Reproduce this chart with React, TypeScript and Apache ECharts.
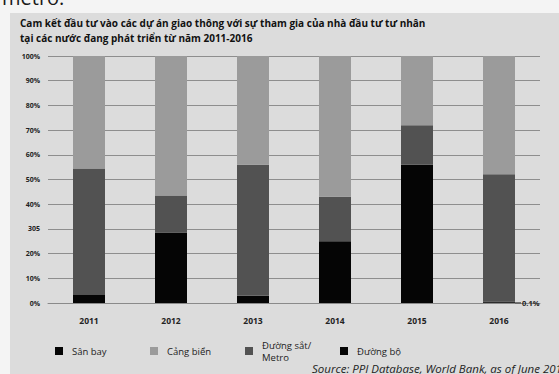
import React, { useEffect, useRef } from "react";
import * as echarts from "echarts";

const years = ["2011", "2012", "2013", "2014", "2015", "2016"];
const sanBay = [0, 0, 0, 0, 0, 0.1];
const duongBo = [3.5, 28.5, 3, 25, 56, 0.5];
const duongSat = [51, 15, 53, 18, 16, 51.5];
const cangBien = [45.5, 56.5, 44, 57, 28, 47.9];
const yTickLabels = ["0%", "10%", "20%", "305", "40%", "50%", "60%", "70%", "80%", "90%", "100%"];

const titleLine1 = "Cam kết đầu tư vào các dự án giao thông với sự tham gia của nhà đầu tư tư nhân";
const titleLine2 = "tại các nước đang phát triển từ năm 2011-2016";
const sourceText = "Source: PPI Database, World Bank, as of June 2017";

const FONT = "'Open Sans', 'Noto Sans', sans-serif";

export default function App() {
  const ref = useRef<HTMLDivElement>(null);
  useEffect(() => {
    if (!ref.current) return;
    const chart = echarts.init(ref.current, null, { renderer: "svg" });
    const barW = 32;
    chart.setOption({
      animation: false,
      backgroundColor: "#f4f4f4",
      textStyle: { fontFamily: FONT },
      graphic: [
        { type: "rect", shape: { x: 10, y: 13, width: 560, height: 370 }, style: { fill: "#dcdcdc" }, z: -10 },
        { type: "text", x: 2, y: -3, style: { text: "metro.", font: `20px ${FONT}`, fill: "#1a1a1a", textVerticalAlign: "middle" } },
        { type: "text", x: 20, y: 23, style: { text: titleLine1, font: `bold 10px ${FONT}`, fill: "#111", textVerticalAlign: "middle" } },
        { type: "text", x: 20, y: 38, style: { text: titleLine2, font: `bold 10px ${FONT}`, fill: "#111", textVerticalAlign: "middle" } },
        { type: "text", x: 312, y: 368, style: { text: sourceText, font: `italic 11.5px ${FONT}`, fill: "#222", textVerticalAlign: "middle" } },
      ],
      grid: { left: 48, right: 19, top: 56, bottom: 71 },
      legend: {
        left: 50,
        top: 334,
        itemWidth: 8,
        itemHeight: 8,
        itemGap: 6,
        icon: "rect",
        data: ["Sân bay", "Cảng biển", "Đường sắt/Metro", "Đường bộ"],
        formatter: (n: string) => n.replace("/", "/\n"),
        textStyle: { fontSize: 9.5, color: "#222", width: 72, padding: [0, 0, 0, 4], lineHeight: 12, fontFamily: FONT },
      },
      xAxis: {
        type: "category",
        data: years,
        axisTick: { show: false },
        axisLine: { lineStyle: { color: "#8a8a8a", width: 1 } },
        axisLabel: { fontSize: 8.5, fontWeight: "bold", color: "#222", margin: 13 },
      },
      yAxis: {
        type: "value",
        min: 0,
        max: 100,
        interval: 10,
        axisLine: { show: false },
        axisTick: { show: false },
        splitLine: { lineStyle: { color: "#8e8e8e", width: 1 } },
        axisLabel: {
          fontSize: 7,
          fontWeight: "bold",
          color: "#222",
          margin: 8,
          formatter: (v: number) => yTickLabels[Math.round(v / 10)],
        },
      },
      series: [
        {
          name: "Sân bay",
          type: "bar",
          stack: "s",
          barWidth: barW,
          data: sanBay.map((v, i) =>
            i === 5
              ? {
                  value: v,
                  label: {
                    show: true,
                    position: "right",
                    distance: 0,
                    formatter: "{l|}{t|0.1%}",
                    rich: {
                      l: { width: 6, height: 1, backgroundColor: "#333" },
                      t: { fontSize: 7.5, fontWeight: "bold", color: "#222", padding: [0, 0, 0, 1], fontFamily: FONT },
                    },
                  },
                }
              : v
          ),
          itemStyle: { color: "#050505" },
        },
        { name: "Đường bộ", type: "bar", stack: "s", barWidth: barW, data: duongBo, itemStyle: { color: "#050505" } },
        { name: "Đường sắt/Metro", type: "bar", stack: "s", barWidth: barW, data: duongSat, itemStyle: { color: "#525252" } },
        { name: "Cảng biển", type: "bar", stack: "s", barWidth: barW, data: cangBien, itemStyle: { color: "#9b9b9b" } },
      ],
    });
    return () => chart.dispose();
  }, []);
  return <div ref={ref} style={{ position: "fixed", left: 0, top: 0, width: 559, height: 374 }} />;
}
